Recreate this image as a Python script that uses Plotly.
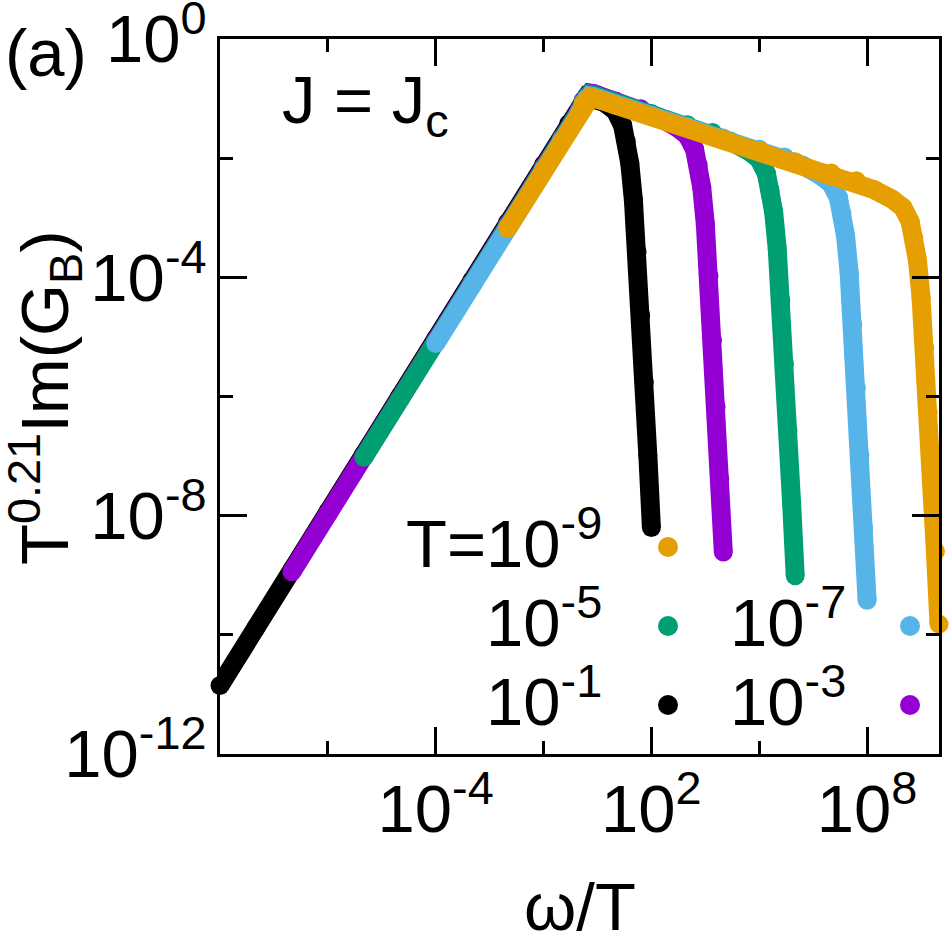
import numpy as np
import plotly.graph_objects as go

# ---- data: log10(omega/T) and log10(T^0.21 Im G_B) ----
t_labels = ["10<sup>-1</sup>", "10<sup>-3</sup>", "10<sup>-5</sup>", "10<sup>-7</sup>", "10<sup>-9</sup>"]
colors = ["#000000", "#9400D3", "#009E73", "#56B4E9", "#E69F00"]

logx_T1 = [-10, -9, -8, -7, -6, -5, -4, -3, -2, -1, -0.3, 0.2, 0.7, 1.0, 1.2, 1.3, 1.4, 1.5, 1.6, 1.7, 1.8,
           1.9, 2.0]
logy_T1 = [-10.85, -9.88, -8.91, -7.94, -6.97, -6.00, -5.03, -4.06, -3.08, -2.11, -1.42, -0.97, -1.07, -1.21,
           -1.45, -1.72, -2.09, -2.71, -3.57, -4.64, -5.76, -6.98, -8.20]

logx_T3 = [-8, -7, -6, -5, -4, -3, -2, -1, -0.5, 0, 0.1, 0.2, 0.3, 0.4, 0.5, 1, 1.7, 2.2, 2.7, 3.0, 3.2, 3.3,
           3.4, 3.5, 3.6, 3.7, 3.8, 3.9, 4.0]
logy_T3 = [-8.94, -7.97, -7.00, -6.03, -5.06, -4.09, -3.11, -2.14, -1.66, -1.18, -1.03, -0.95, -0.91, -0.92,
           -0.94, -1.04, -1.17, -1.31, -1.48, -1.62, -1.85, -2.12, -2.49, -3.11, -3.98, -5.05, -6.17, -7.39,
           -8.61]

logx_T5 = [-6, -5, -4, -3, -2, -1, -0.5, 0, 0.1, 0.2, 0.3, 0.4, 0.5, 1, 2, 3, 3.7, 4.2, 4.7, 5.0, 5.2, 5.3,
           5.4, 5.5, 5.6, 5.7, 5.8, 5.9, 6.0]
logy_T5 = [-7.02, -6.05, -5.08, -4.11, -3.13, -2.16, -1.68, -1.20, -1.05, -0.97, -0.93, -0.94, -0.96, -1.06,
           -1.25, -1.44, -1.57, -1.72, -1.88, -2.02, -2.26, -2.53, -2.90, -3.52, -4.38, -5.45, -6.57, -7.79,
           -9.01]

logx_T7 = [-4, -3, -2, -1, -0.5, 0, 0.1, 0.2, 0.3, 0.4, 0.5, 1, 2, 3, 4, 5, 5.7, 6.2, 6.7, 7.0, 7.2, 7.3,
           7.4, 7.5, 7.6, 7.7, 7.8, 7.9, 8.0]
logy_T7 = [-5.11, -4.14, -3.16, -2.19, -1.71, -1.23, -1.08, -1.00, -0.96, -0.97, -0.99, -1.09, -1.28, -1.47,
           -1.66, -1.85, -1.98, -2.12, -2.29, -2.43, -2.66, -2.93, -3.30, -3.92, -4.79, -5.86, -6.98, -8.20,
           -9.42]

logx_T9 = [-2, -1, -0.5, 0, 0.1, 0.2, 0.3, 0.4, 0.5, 1, 2, 3, 4, 5, 6, 7, 7.7, 8.2, 8.7, 9.0, 9.2, 9.3,
           9.4, 9.5, 9.6, 9.7, 9.8, 9.9, 10.0]
logy_T9 = [-3.18, -2.21, -1.73, -1.25, -1.10, -1.02, -0.98, -0.99, -1.01, -1.11, -1.30, -1.49, -1.68, -1.87,
           -2.06, -2.25, -2.38, -2.53, -2.69, -2.83, -3.07, -3.34, -3.71, -4.33, -5.19, -6.26, -7.38, -8.60,
           -9.82]

x_ticks = [1e-4, 1e2, 1e8]
x_ticktext = ["10<sup>-4</sup>", "10<sup>2</sup>", "10<sup>8</sup>"]
x_minor = [1e-7, 1e-1, 1e5]
y_ticks = [1e0, 1e-4, 1e-8, 1e-12]
y_ticktext = ["10<sup>0</sup>", "10<sup>-4</sup>", "10<sup>-8</sup>", "10<sup>-12</sup>"]
y_minor = [1e-2, 1e-6, 1e-10]

series_x = [logx_T1, logx_T3, logx_T5, logx_T7, logx_T9]
series_y = [logy_T1, logy_T3, logy_T5, logy_T7, logy_T9]

FONT = "Liberation Sans, Arial, sans-serif"
W, H = 950, 935
L, R, T, B = 220, 11, 39, 181
PW, PH = W - L - R, H - T - B


def px(xpix):
    return (xpix - L) / PW


def py(ypix):
    return (H - B - ypix) / PH


fig = go.Figure()
for xs, ys, c in zip(series_x, series_y, colors):
    fig.add_trace(go.Scatter(
        x=10 ** np.array(xs), y=10 ** np.array(ys), mode="lines+markers",
        line=dict(color=c, width=19), marker=dict(color=c, size=19, line=dict(width=0)),
        cliponaxis=False, showlegend=False, hoverinfo="skip"))

axis_common = dict(
    type="log", showgrid=False, zeroline=False, showline=True, linecolor="black", linewidth=3,
    mirror="ticks", ticks="inside", tickwidth=2.5, ticklen=27, tickcolor="black",
    tickfont=dict(family=FONT, size=67, color="black"), ticklabeloverflow="allow", automargin=False,
)
fig.update_xaxes(**axis_common, range=[-10, 10], tickmode="array", tickvals=x_ticks, ticktext=x_ticktext,
                 minor=dict(tickmode="array", tickvals=x_minor, ticks="inside", ticklen=13, tickwidth=2.5,
                            tickcolor="black", showgrid=False),
                 ticklabelstandoff=-5)
fig.update_yaxes(**axis_common, range=[-12, 0], tickmode="array", tickvals=y_ticks, ticktext=y_ticktext,
                 minor=dict(tickmode="array", tickvals=y_minor, ticks="inside", ticklen=13, tickwidth=2.5,
                            tickcolor="black", showgrid=False),
                 ticklabelstandoff=-3)

ann_font = dict(family=FONT, size=67, color="black")
annotations = [
    dict(text="(a)", x=px(3), y=py(52), xanchor="left", yanchor="middle"),
    dict(text="J = J<sub>c</sub>", x=px(280), y=py(104), xanchor="left", yanchor="middle"),
    dict(text="ω/T", x=0.5, y=py(906), xanchor="center", yanchor="middle"),
    dict(text="T<sup>0.21</sup>Im(G<sub>B</sub>)", x=px(45), y=py(398), xanchor="center", yanchor="middle",
         textangle=-90),
]
# legend: text + dot
legend_rows = [
    ("T=" + t_labels[4], 604, 547, colors[4], 668),
    (t_labels[2], 604, 626, colors[2], 668),
    (t_labels[3], 848, 626, colors[3], 910),
    (t_labels[0], 604, 705, colors[0], 668),
    (t_labels[1], 848, 705, colors[1], 910),
]
shapes = []
for txt, tx, ty, col, dx in legend_rows:
    annotations.append(dict(text=txt, x=px(tx), y=py(ty - 8), xanchor="right", yanchor="middle"))
    r = 10
    shapes.append(dict(type="circle", xref="paper", yref="paper", x0=px(dx - r), x1=px(dx + r),
                       y0=py(ty + r), y1=py(ty - r), fillcolor=col, line=dict(width=0)))

for a in annotations:
    a.update(xref="paper", yref="paper", showarrow=False, font=ann_font)

fig.update_layout(
    width=W, height=H, margin=dict(l=L, r=R, t=T, b=B, autoexpand=False), paper_bgcolor="white",
    plot_bgcolor="white", annotations=annotations, shapes=shapes, font=dict(family=FONT, color="black"),
)
fig.write_html("out.html")
